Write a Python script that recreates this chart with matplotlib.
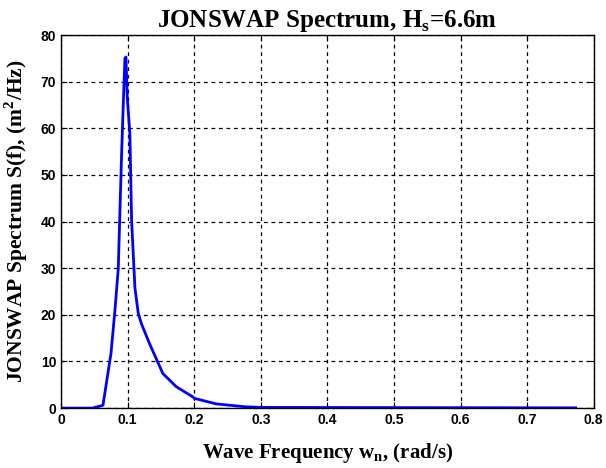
import matplotlib
matplotlib.use("Agg")
import matplotlib.pyplot as plt

freq = [0.0, 0.047, 0.063, 0.075, 0.081, 0.086, 0.0885, 0.091, 0.0935, 0.096, 0.0975,
        0.0995, 0.1034, 0.106, 0.111, 0.116, 0.121, 0.133, 0.153, 0.173, 0.198,
        0.2, 0.233, 0.275, 0.3, 0.773]
spec = [0.0, 0.0, 0.6, 11.7, 21.0, 30.0, 42.4, 54.5, 65.2, 75.0, 75.3,
        66.6, 58.8, 40.2, 25.8, 20.3, 18.0, 13.8, 7.4, 4.6, 2.4,
        2.1, 0.9, 0.3, 0.15, 0.05]
xticks = [0, 0.1, 0.2, 0.3, 0.4, 0.5, 0.6, 0.7, 0.8]
xticklabels = ["0", "0.1", "0.2", "0.3", "0.4", "0.5", "0.6", "0.7", "0.8"]
yticks = [0, 10, 20, 30, 40, 50, 60, 70, 80]

fig = plt.figure(figsize=(6.06, 4.68), dpi=100)
ax = fig.add_axes([0.1007, 0.128, 0.879, 0.797])
ax.plot(freq, spec, color=(0, 0, 1), lw=2)
ax.set_xlim(0, 0.8)
ax.set_ylim(0, 80)
ax.set_xticks(xticks)
ax.set_xticklabels(xticklabels)
ax.set_yticks(yticks)
ax.grid(True, color="black", linestyle=(0, (3, 3)), linewidth=0.9)
ax.tick_params(direction="in", top=True, right=True, length=4, labelsize=10)
for lab in ax.get_xticklabels() + ax.get_yticklabels():
    lab.set_fontfamily("Liberation Sans")
    lab.set_fontweight("bold")
for s in ax.spines.values():
    s.set_linewidth(1.0)
serif = "Liberation Serif"
ax.set_title("JONSWAP Spectrum, H$_\\mathregular{s}$=6.6m", fontfamily=serif,
             fontweight="bold", fontsize=18, pad=6)
ax.set_xlabel("Wave Frequency w$_\\mathregular{n}$, (rad/s)", fontfamily=serif,
              fontweight="bold", fontsize=15, labelpad=10)
ax.set_ylabel("JONSWAP Spectrum S(f), (m$^\\mathregular{2}$/Hz)", fontfamily=serif,
              fontweight="bold", fontsize=15.5, labelpad=8)
fig.savefig("out.png", dpi=100)
